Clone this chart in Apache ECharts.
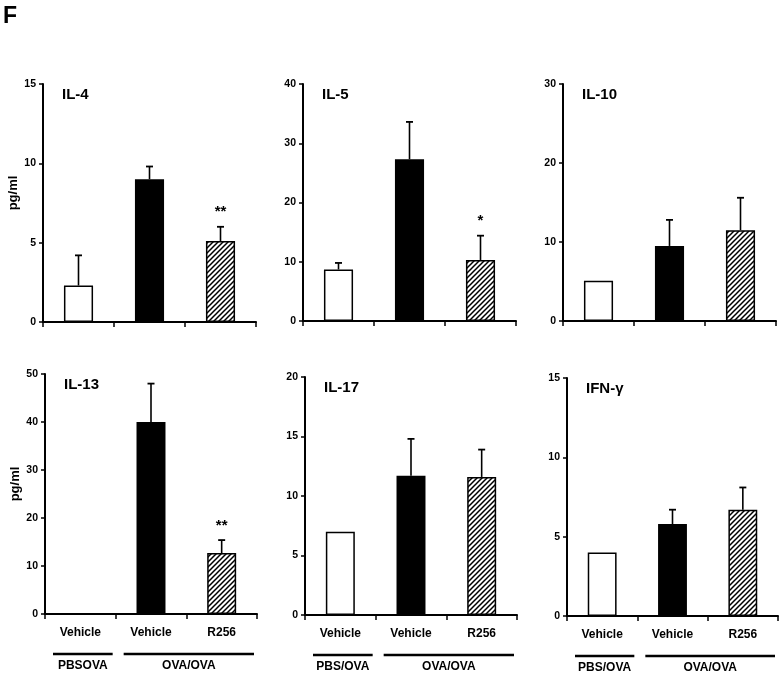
<!DOCTYPE html>
<html>
<head>
<meta charset="utf-8">
<script src="https://cdn.jsdelivr.net/npm/echarts@6/dist/echarts.min.js"></script>
<style>
html,body{margin:0;padding:0;background:#fff;}
#chart{width:780px;height:685px;}
</style>
</head>
<body>
<div id="chart"></div>
<script>
// ---------- DATA ----------
const categories = ['Vehicle', 'Vehicle', 'R256'];
const groupLabelsA = ['PBSOVA', 'OVA/OVA'];
const groupLabelsB = ['PBS/OVA', 'OVA/OVA'];
const groupSpans = [[0, 0], [1, 2]];

const il4Values = [2.3, 9.0, 5.1];
const il4ErrTop = [4.2, 9.8, 6.0];
const il4Sig = ['', '', '**'];

const il5Values = [8.7, 27.3, 10.3];
const il5ErrTop = [9.8, 33.6, 14.4];
const il5Sig = ['', '', '*'];

const il10Values = [5.1, 9.5, 11.5];
const il10ErrTop = [null, 12.8, 15.6];
const il10Sig = ['', '', ''];

const il13Values = [0, 40.0, 12.7];
const il13ErrTop = [null, 48.0, 15.4];
const il13Sig = ['', '', '**'];

const il17Values = [7.0, 11.7, 11.6];
const il17ErrTop = [null, 14.8, 13.9];
const il17Sig = ['', '', ''];

const ifngValues = [4.0, 5.8, 6.7];
const ifngErrTop = [null, 6.7, 8.1];
const ifngSig = ['', '', ''];

const yTicks = {
  il4: [0, 15, 5], il5: [0, 40, 10], il10: [0, 30, 10],
  il13: [0, 50, 10], il17: [0, 20, 5], ifng: [0, 15, 5]
};

// ---------- STYLE / LAYOUT ----------
const FONT = "'Liberation Sans Narrow','Arial Narrow','Liberation Sans',Arial,sans-serif";
const FONT_WIDE = "'Liberation Sans',Arial,sans-serif";

function makeHatch() {
  const s = 5;
  const c = document.createElement('canvas');
  c.width = s; c.height = s;
  const ctx = c.getContext('2d');
  ctx.fillStyle = '#fff';
  ctx.fillRect(0, 0, s, s);
  ctx.strokeStyle = '#000';
  ctx.lineWidth = 1.5;
  ctx.beginPath();
  ctx.moveTo(-1, s + 1); ctx.lineTo(s + 1, -1);
  ctx.moveTo(-1, 1); ctx.lineTo(1, -1);
  ctx.moveTo(s - 1, s + 1); ctx.lineTo(s + 1, s - 1);
  ctx.stroke();
  return c;
}
const hatch = makeHatch();
const barFills = ['#ffffff', '#000000', { image: hatch, repeat: 'repeat' }];

const panels = [
  { title: 'IL-4', values: il4Values, err: il4ErrTop, sig: il4Sig, y: yTicks.il4, ylab: true, xlab: false, groups: null,
    grid: { left: 43, top: 84, width: 213, height: 238 } },
  { title: 'IL-5', values: il5Values, err: il5ErrTop, sig: il5Sig, y: yTicks.il5, ylab: false, xlab: false, groups: null,
    grid: { left: 303, top: 84, width: 213, height: 237 } },
  { title: 'IL-10', values: il10Values, err: il10ErrTop, sig: il10Sig, y: yTicks.il10, ylab: false, xlab: false, groups: null,
    grid: { left: 563, top: 84, width: 213, height: 237 } },
  { title: 'IL-13', values: il13Values, err: il13ErrTop, sig: il13Sig, y: yTicks.il13, ylab: true, xlab: true, groups: groupLabelsA,
    grid: { left: 45, top: 374, width: 212, height: 240 } },
  { title: 'IL-17', values: il17Values, err: il17ErrTop, sig: il17Sig, y: yTicks.il17, ylab: false, xlab: true, groups: groupLabelsB,
    grid: { left: 305, top: 377, width: 212, height: 238 } },
  { title: 'IFN-γ', values: ifngValues, err: ifngErrTop, sig: ifngSig, y: yTicks.ifng, ylab: false, xlab: true, groups: groupLabelsB,
    grid: { left: 567, top: 378, width: 211, height: 238 } }
];

const grid = [], xAxis = [], yAxis = [], series = [], title = [];

title.push({ text: 'F', left: 3, top: 5, padding: 0,
  textStyle: { fontFamily: FONT, fontWeight: 'bold', fontSize: 23, color: '#000' } });

panels.forEach((p, i) => {
  grid.push(Object.assign({ containLabel: false }, p.grid));
  title.push({ text: p.title, left: p.grid.left + 19, top: p.grid.top + 3, padding: 0,
    textStyle: { fontFamily: FONT, fontWeight: 'bold', fontSize: 15, color: '#000' } });

  xAxis.push({
    type: 'category', gridIndex: i, data: categories, boundaryGap: true,
    axisLine: { lineStyle: { color: '#000', width: 2 } },
    axisTick: { show: true, length: 5, interval: 0, lineStyle: { color: '#000', width: 1.5 } },
    axisLabel: { show: p.xlab, interval: 0, margin: 13, color: '#000',
      fontFamily: FONT, fontWeight: 'bold', fontSize: 12 },
    splitLine: { show: false }
  });
  yAxis.push({
    type: 'value', gridIndex: i, min: p.y[0], max: p.y[1], interval: p.y[2],
    name: p.ylab ? 'pg/ml' : '', nameLocation: 'middle', nameGap: 21, nameRotate: 90,
    nameTextStyle: { fontFamily: FONT_WIDE, fontWeight: 'bold', fontSize: 13, color: '#000', padding: [0, 0, 0, 20] },
    axisLine: { show: true, lineStyle: { color: '#000', width: 2 } },
    axisTick: { show: true, length: 4, lineStyle: { color: '#000', width: 1.5 } },
    axisLabel: { margin: 7, color: '#000', fontFamily: FONT, fontWeight: 'bold', fontSize: 10.5 },
    splitLine: { show: false }
  });

  series.push({
    type: 'bar', xAxisIndex: i, yAxisIndex: i, barWidth: '41%', animation: false,
    data: p.values.map((v, k) => ({
      value: v,
      itemStyle: { color: barFills[k], borderColor: '#000', borderWidth: v > 0 ? 1.5 : 0 }
    }))
  });

  series.push({
    type: 'custom', xAxisIndex: i, yAxisIndex: i, animation: false, z: 5,
    encode: { x: 0, y: [1, 2] },
    data: p.values.map((v, k) => [k, v, p.err[k] == null ? v : p.err[k], p.err[k] == null ? 0 : 1]),
    renderItem: function (params, api) {
      const k = params.dataIndex;
      const hasErr = api.value(3) === 1;
      const base = api.coord([api.value(0), api.value(1)]);
      const top = api.coord([api.value(0), api.value(2)]);
      const children = [];
      if (hasErr) {
        children.push({ type: 'line', shape: { x1: base[0], y1: base[1], x2: top[0], y2: top[1] },
          style: { stroke: '#000', lineWidth: 1.6 } });
        children.push({ type: 'line', shape: { x1: top[0] - 3.5, y1: top[1], x2: top[0] + 3.5, y2: top[1] },
          style: { stroke: '#000', lineWidth: 1.8 } });
      }
      const s = p.sig[k];
      if (s) {
        children.push({ type: 'text', x: top[0], y: top[1] - 7,
          style: { text: s, fill: '#000', font: 'bold 15px ' + FONT, align: 'center', verticalAlign: 'bottom' } });
      }
      return { type: 'group', children: children };
    }
  });

  if (p.groups) {
    series.push({
      type: 'custom', xAxisIndex: i, yAxisIndex: i, animation: false, silent: true,
      encode: { x: [0, 1], y: 2 },
      data: groupSpans.map(g => [g[0], g[1], 0]),
      renderItem: function (params, api) {
        const a = api.coord([api.value(0), 0]);
        const b = api.coord([api.value(1), 0]);
        const band = api.size([1, 0])[0];
        const x0 = a[0] - band / 2 + 8;
        const x1 = b[0] + band / 2 - 3;
        const y = a[1] + 40;
        return { type: 'group', children: [
          { type: 'line', shape: { x1: x0, y1: y, x2: x1, y2: y }, style: { stroke: '#000', lineWidth: 2.5 } },
          { type: 'text', x: (x0 + x1) / 2, y: y + 6,
            style: { text: p.groups[params.dataIndex], fill: '#000', font: 'bold 12px ' + FONT,
              align: 'center', verticalAlign: 'top' } }
        ] };
      }
    });
  }
});

const chart = echarts.init(document.getElementById('chart'), null, { renderer: 'canvas' });
chart.setOption({
  backgroundColor: '#fff',
  animation: false,
  title: title,
  grid: grid,
  xAxis: xAxis,
  yAxis: yAxis,
  series: series
});
</script>
</body>
</html>
